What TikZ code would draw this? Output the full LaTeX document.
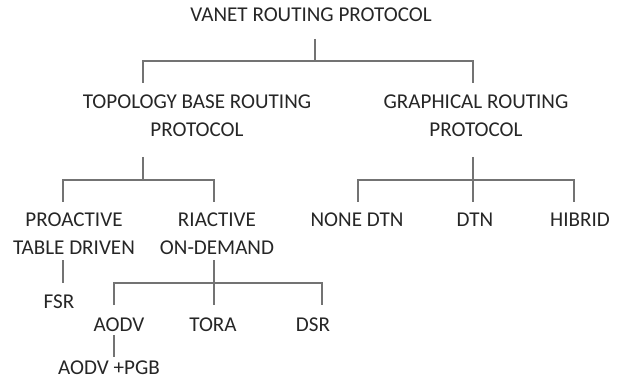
\documentclass[tikz,border=0pt]{standalone}
\usepackage{fontspec}
\setmainfont{Carlito}
\tikzset{
  lbl/.style={font=\fontsize{15}{19.6}\selectfont, text=black!85, align=center, inner sep=0pt},
  lnk/.style={draw=black!55, line width=1pt}
}

\begin{document}
\begin{tikzpicture}[x=0.025cm,y=-0.025cm]
\useasboundingbox (0,0) rectangle (620,381);
% labels
\node[lbl] (vanet) at (311,15) {VANET ROUTING PROTOCOL};
\node[lbl] (topo) at (197,116) {TOPOLOGY BASE ROUTING\\PROTOCOL};
\node[lbl] (graph) at (476,116) {GRAPHICAL ROUTING\\PROTOCOL};
\node[lbl] (pro) at (74,233.5) {PROACTIVE\\TABLE DRIVEN};
\node[lbl] (ri) at (217,233.5) {RIACTIVE\\ON-DEMAND};
\node[lbl] (none) at (357,220) {NONE DTN};
\node[lbl] (dtn) at (475,220) {DTN};
\node[lbl] (hib) at (580,220) {HIBRID};
\node[lbl] (fsr) at (59,302) {FSR};
\node[lbl] (aodv) at (119,325) {AODV};
\node[lbl] (tora) at (213,325) {TORA};
\node[lbl] (dsr) at (313,325) {DSR};
\node[lbl] (pgb) at (109,368) {AODV +PGB};
% line ends
\coordinate (vanetdn) at (315,39);
\coordinate (vanetbar) at (315,61);
\coordinate (topoup) at (143,83);
\coordinate (graphup) at (473,83);
\coordinate (topodn) at (143,157);
\coordinate (topobar) at (143,180);
\coordinate (proup) at (63,202);
\coordinate (riup) at (214,202);
\coordinate (graphdn) at (473,157);
\coordinate (graphbar) at (473,180);
\coordinate (noneup) at (358,202);
\coordinate (dtnup) at (473,202);
\coordinate (hibup) at (574,202);
\coordinate (prodn) at (63,260);
\coordinate (fsrup) at (63,283);
\coordinate (ridn) at (214,260);
\coordinate (ribar) at (214,283);
\coordinate (aodvup) at (114,305);
\coordinate (toraup) at (214,305);
\coordinate (dsrup) at (322,305);
\coordinate (aodvdn) at (114,335);
\coordinate (pgbup) at (114,357);
% 1st level
\draw[lnk] (vanetdn) -- (vanetbar);
\draw[lnk] (topoup) |- (vanetbar) -| (graphup);
% topology
\draw[lnk] (topodn) -- (topobar);
\draw[lnk] (proup) |- (topobar) -| (riup);
% graphical
\draw[lnk] (graphdn) -- (dtnup);
\draw[lnk] (noneup) |- (graphbar) -| (hibup);
% proactive
\draw[lnk] (prodn) -- (fsrup);
% riactive
\draw[lnk] (ridn) -- (toraup);
\draw[lnk] (aodvup) |- (ribar) -| (dsrup);
% aodv
\draw[lnk] (aodvdn) -- (pgbup);
\end{tikzpicture}
\end{document}
